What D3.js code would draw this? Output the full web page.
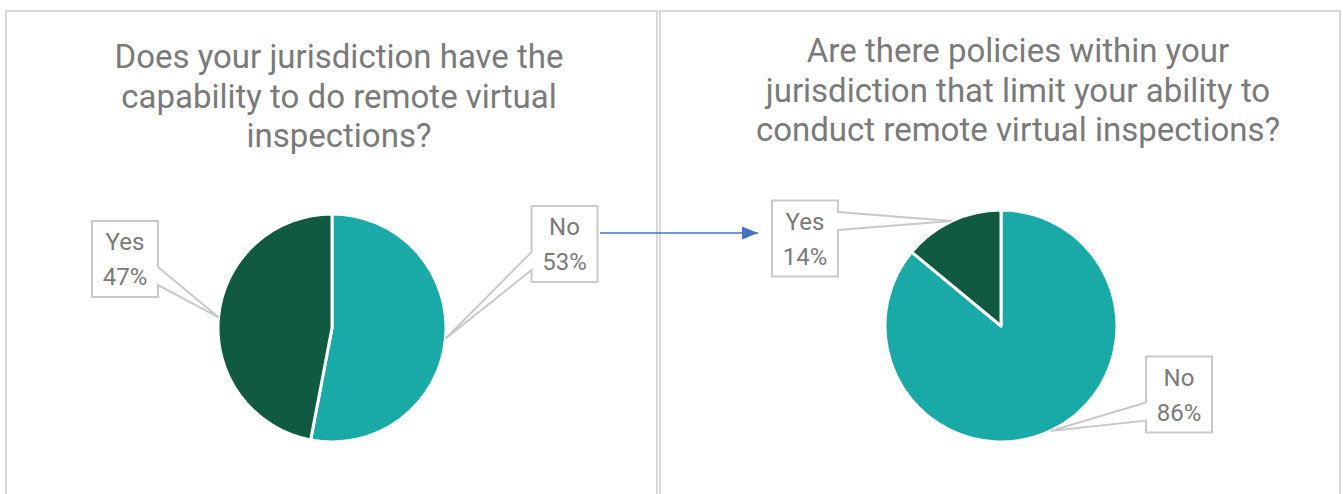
<!DOCTYPE html>
<html>
<head>
<meta charset="utf-8">
<script src="https://cdn.jsdelivr.net/npm/d3@7"></script>
<style>
  body { margin: 0; background: #fff; }
  svg { display: block; font-family: Roboto, "Noto Sans", sans-serif; }
</style>
</head>
<body>
<div id="chart"><svg width="1343" height="494"></svg></div>
<script>
// chart data
const categories = ["No", "Yes"];
const capabilityValues = [53, 47];
const policyValues = [86, 14];
const capabilityTitle = ["Does your jurisdiction have the", "capability to do remote virtual", "inspections?"];
const policyTitle = ["Are there policies within your", "jurisdiction that limit your ability to", "conduct remote virtual inspections?"];

const colors = { No: "#19aaa7", Yes: "#0f5a40" };
const textColor = "#7a7a7a";

const svg = d3.select("#chart").select("svg");

// panel frames
const panels = [
  { x: 6, y: 11, w: 651, h: 500 },
  { x: 660, y: 11, w: 680, h: 500 },
];
svg
  .selectAll(".panel")
  .data(panels)
  .enter()
  .append("rect")
  .attr("class", "panel")
  .attr("x", (d) => d.x)
  .attr("y", (d) => d.y)
  .attr("width", (d) => d.w)
  .attr("height", (d) => d.h)
  .attr("fill", "#fff")
  .attr("stroke", "#d9d9d9")
  .attr("stroke-width", 2);

const charts = [
  {
    title: capabilityTitle,
    values: capabilityValues,
    titleX: 339,
    titleY: 68,
    cx: 332,
    cy: 328,
    r: 114,
    // label box centres
    boxes: { No: [564.5, 244], Yes: [125, 259] },
  },
  {
    title: policyTitle,
    values: policyValues,
    titleX: 1018,
    titleY: 62,
    cx: 1001,
    cy: 326,
    r: 116,
    boxes: { No: [1179, 394.5], Yes: [805, 238.5] },
  },
];

const pie = d3.pie().sort(null).value((d) => d.value);

charts.forEach((c) => {
  const data = categories.map((name, i) => ({ name, value: c.values[i] }));

  svg
    .append("text")
    .attr("x", c.titleX)
    .attr("y", c.titleY)
    .attr("text-anchor", "middle")
    .attr("fill", textColor)
    .style("font-size", "33px")
    .selectAll("tspan")
    .data(c.title)
    .enter()
    .append("tspan")
    .attr("x", c.titleX)
    .attr("dy", (d, i) => (i === 0 ? 0 : 39.5))
    .text((d) => d);

  const arc = d3.arc().innerRadius(0).outerRadius(c.r);
  const arcs = pie(data);

  const g = svg.append("g").attr("transform", `translate(${c.cx},${c.cy})`);
  g.selectAll("path")
    .data(arcs)
    .enter()
    .append("path")
    .attr("d", arc)
    .attr("fill", (d) => colors[d.data.name])
    .attr("stroke", "#fff")
    .attr("stroke-width", 3)
    .attr("stroke-linejoin", "round");

  // callout labels
  arcs.forEach((a) => {
    const mid = (a.startAngle + a.endAngle) / 2;
    const px = c.cx + c.r * Math.sin(mid);
    const py = c.cy - c.r * Math.cos(mid);
    const [bx, by] = c.boxes[a.data.name];
    const w = 66, h = 76;
    const left = bx - w / 2, right = bx + w / 2, top = by - h / 2, bottom = by + h / 2;
    const baseC = Math.max(top + 20, Math.min(bottom - 21, py));
    const b0 = baseC - 9, b1 = baseC + 9;
    const p = d3.path();
    if (px > bx) {
      p.moveTo(left, top);
      p.lineTo(right, top);
      p.lineTo(right, b0);
      p.lineTo(px, py);
      p.lineTo(right, b1);
      p.lineTo(right, bottom);
      p.lineTo(left, bottom);
      p.closePath();
    } else {
      p.moveTo(right, top);
      p.lineTo(right, bottom);
      p.lineTo(left, bottom);
      p.lineTo(left, b1);
      p.lineTo(px, py);
      p.lineTo(left, b0);
      p.lineTo(left, top);
      p.closePath();
    }
    svg
      .append("path")
      .attr("d", p.toString())
      .attr("fill", "#fff")
      .attr("stroke", "#c9c9c9")
      .attr("stroke-width", 2);

    const t = svg
      .append("text")
      .attr("text-anchor", "middle")
      .attr("fill", textColor)
      .style("font-size", "24px");
    t.append("tspan").attr("x", bx).attr("y", by - 9).text(a.data.name);
    t.append("tspan").attr("x", bx).attr("y", by + 26).text(a.data.value + "%");
  });
});

// connector arrow between the two charts
svg
  .append("defs")
  .append("marker")
  .attr("id", "arrowHead")
  .attr("viewBox", "0 0 10 10")
  .attr("refX", 10)
  .attr("refY", 5)
  .attr("markerWidth", 16)
  .attr("markerHeight", 13)
  .attr("markerUnits", "userSpaceOnUse")
  .attr("orient", "auto")
  .attr("preserveAspectRatio", "none")
  .append("path")
  .attr("d", "M0,0L10,5L0,10Z")
  .attr("fill", "#4472c4");

svg
  .append("line")
  .attr("x1", 600)
  .attr("y1", 233)
  .attr("x2", 758)
  .attr("y2", 233)
  .attr("stroke", "#4472c4")
  .attr("stroke-width", 1.5)
  .attr("marker-end", "url(#arrowHead)");
</script>
</body>
</html>
